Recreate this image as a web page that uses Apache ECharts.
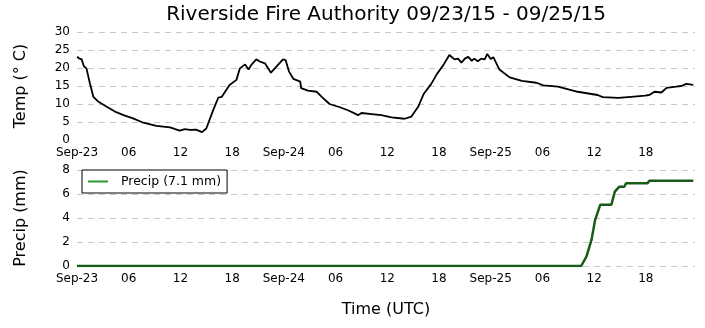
<!DOCTYPE html>
<html><head><meta charset="utf-8">
<script src="https://cdn.jsdelivr.net/npm/echarts@6/dist/echarts.min.js"></script>
<style>html,body{margin:0;padding:0;background:#fff}#c{width:705px;height:328px}</style>
</head><body><div id="c"></div>
<script>
// Hours since 2015-09-23 00:00 UTC
const xTickLabels = ['Sep-23','06','12','18','Sep-24','06','12','18','Sep-25','06','12','18'];
const tempHours = [0,0.3,0.54,0.8,1.1,1.5,1.9,2.5,3.4,4.4,5.4,6.5,7.7,9.2,10.8,11.4,11.9,12.5,13.1,13.8,14.5,15.0,15.8,16.4,16.8,17.7,18.5,18.9,19.5,19.9,20.2,20.4,20.8,21.2,21.8,22.5,23.9,24.2,24.6,25.1,25.9,26.0,26.8,27.8,28.4,29.3,30.5,31.5,32.2,32.6,33.0,34.2,35.3,36.5,38.0,38.8,39.6,40.2,41.1,41.7,42.5,43.2,43.8,44.2,44.6,45.0,45.4,45.8,46.1,46.5,46.9,47.3,47.6,48.0,48.3,49.0,50.2,51.6,53.3,54.1,55.8,58.1,60.4,61.0,62.8,64.3,65.9,66.4,67.0,67.8,68.4,69.5,70.1,70.7,71.5];
const tempValues = [23.1,22.6,22.4,20.5,19.9,15.7,12.0,10.6,9.3,7.9,6.9,6.0,4.8,3.9,3.5,3.0,2.6,3.0,2.8,2.9,2.2,3.2,8.3,11.8,12.0,15.3,16.7,19.9,21.0,19.6,20.8,20.6,22.4,21.8,21.3,18.7,22.4,22.2,19.0,17.0,16.2,14.4,13.7,13.4,12.0,10.0,9.1,8.2,7.4,6.9,7.5,7.2,6.9,6.3,5.9,6.5,9.3,12.7,15.6,18.1,20.8,23.6,22.4,22.6,21.5,22.6,23.1,22.0,22.6,21.9,22.6,22.4,23.9,22.5,23.0,19.6,17.4,16.4,15.9,15.2,14.8,13.4,12.5,11.9,11.7,12.0,12.3,12.5,13.4,13.2,14.5,14.8,15.0,15.6,15.3];
const precipHours = [0,58.5,59.1,59.7,60.1,60.7,62.0,62.4,62.9,63.5,63.7,66.2,66.4,71.5];
const precipValues = [0,0,0.78,2.2,3.8,5.1,5.1,6.2,6.6,6.6,6.9,6.9,7.1,7.1];

const FONT = 'DejaVu Sans';
const xMax = 71.7;
const pair = (xs, ys) => xs.map((x, i) => [x, ys[i]]);
const gridLine = {show: true, lineStyle: {color: '#c8c8c8', type: [6, 5], width: 1}};
const xLabelFmt = v => {
  const r = v / 6;
  if (Math.abs(r - Math.round(r)) < 1e-6) return xTickLabels[Math.round(r)] || '';
  return '';
};
function xAxis(gi, name) {
  return {
    type: 'value', gridIndex: gi, min: 0, max: xMax, interval: 6,
    axisLine: {show: false}, axisTick: {show: false}, splitLine: {show: false},
    axisLabel: {formatter: xLabelFmt, color: '#000', fontFamily: FONT, fontSize: 12, margin: 7, showMaxLabel: true},
    name: name || '', nameLocation: 'middle', nameGap: 36,
    nameTextStyle: {color: '#000', fontFamily: FONT, fontSize: 16}
  };
}
function yAxis(gi, max, interval, name, showMin) {
  return {
    type: 'value', gridIndex: gi, min: 0, max: max, interval: interval,
    axisLine: {show: false}, axisTick: {show: false},
    splitLine: Object.assign({showMinLine: showMin}, gridLine),
    axisLabel: {color: '#000', fontFamily: FONT, fontSize: 12, margin: 7},
    name: name, nameLocation: 'middle', nameGap: 48, nameRotate: 90,
    nameTextStyle: {color: '#000', fontFamily: FONT, fontSize: 16}
  };
}
const chart = echarts.init(document.getElementById('c'), null, {renderer: 'canvas'});
chart.setOption({
  animation: false,
  backgroundColor: '#fff',
  title: {
    text: 'Riverside Fire Authority 09/23/15 - 09/25/15',
    left: 386, top: 5, textAlign: 'center', padding: 0,
    textStyle: {fontFamily: FONT, fontSize: 20, fontWeight: 'normal', color: '#000'}
  },
  grid: [
    {left: 77, right: 10, top: 32, height: 108},
    {left: 77, right: 10, top: 170, height: 96}
  ],
  xAxis: [xAxis(0), xAxis(1, 'Time (UTC)')],
  yAxis: [yAxis(0, 30, 5, 'Temp (° C)', false), yAxis(1, 8, 2, 'Precip (mm)', true)],
  legend: {
    data: ['Precip (7.1 mm)'],
    left: 82, top: 170, orient: 'vertical',
    backgroundColor: '#fff', borderColor: '#000', borderWidth: 1, borderRadius: 0,
    padding: [5, 6, 5, 6],
    icon: 'rect', itemWidth: 20, itemHeight: 2,
    itemStyle: {color: '#2a9a2a'},
    textStyle: {fontFamily: FONT, fontSize: 12.5, color: '#000', padding: [0, 0, 0, 8]}
  },
  series: [
    {
      name: 'Temp', type: 'line', xAxisIndex: 0, yAxisIndex: 0,
      data: pair(tempHours, tempValues), showSymbol: false,
      lineStyle: {color: '#000', width: 1.8}, itemStyle: {color: '#000'}
    },
    {
      name: 'Precip (7.1 mm)', type: 'line', xAxisIndex: 1, yAxisIndex: 1,
      data: pair(precipHours, precipValues), showSymbol: false,
      lineStyle: {color: '#185c18', width: 2.5}, itemStyle: {color: '#2a9a2a'}
    }
  ]
});
</script></body></html>
